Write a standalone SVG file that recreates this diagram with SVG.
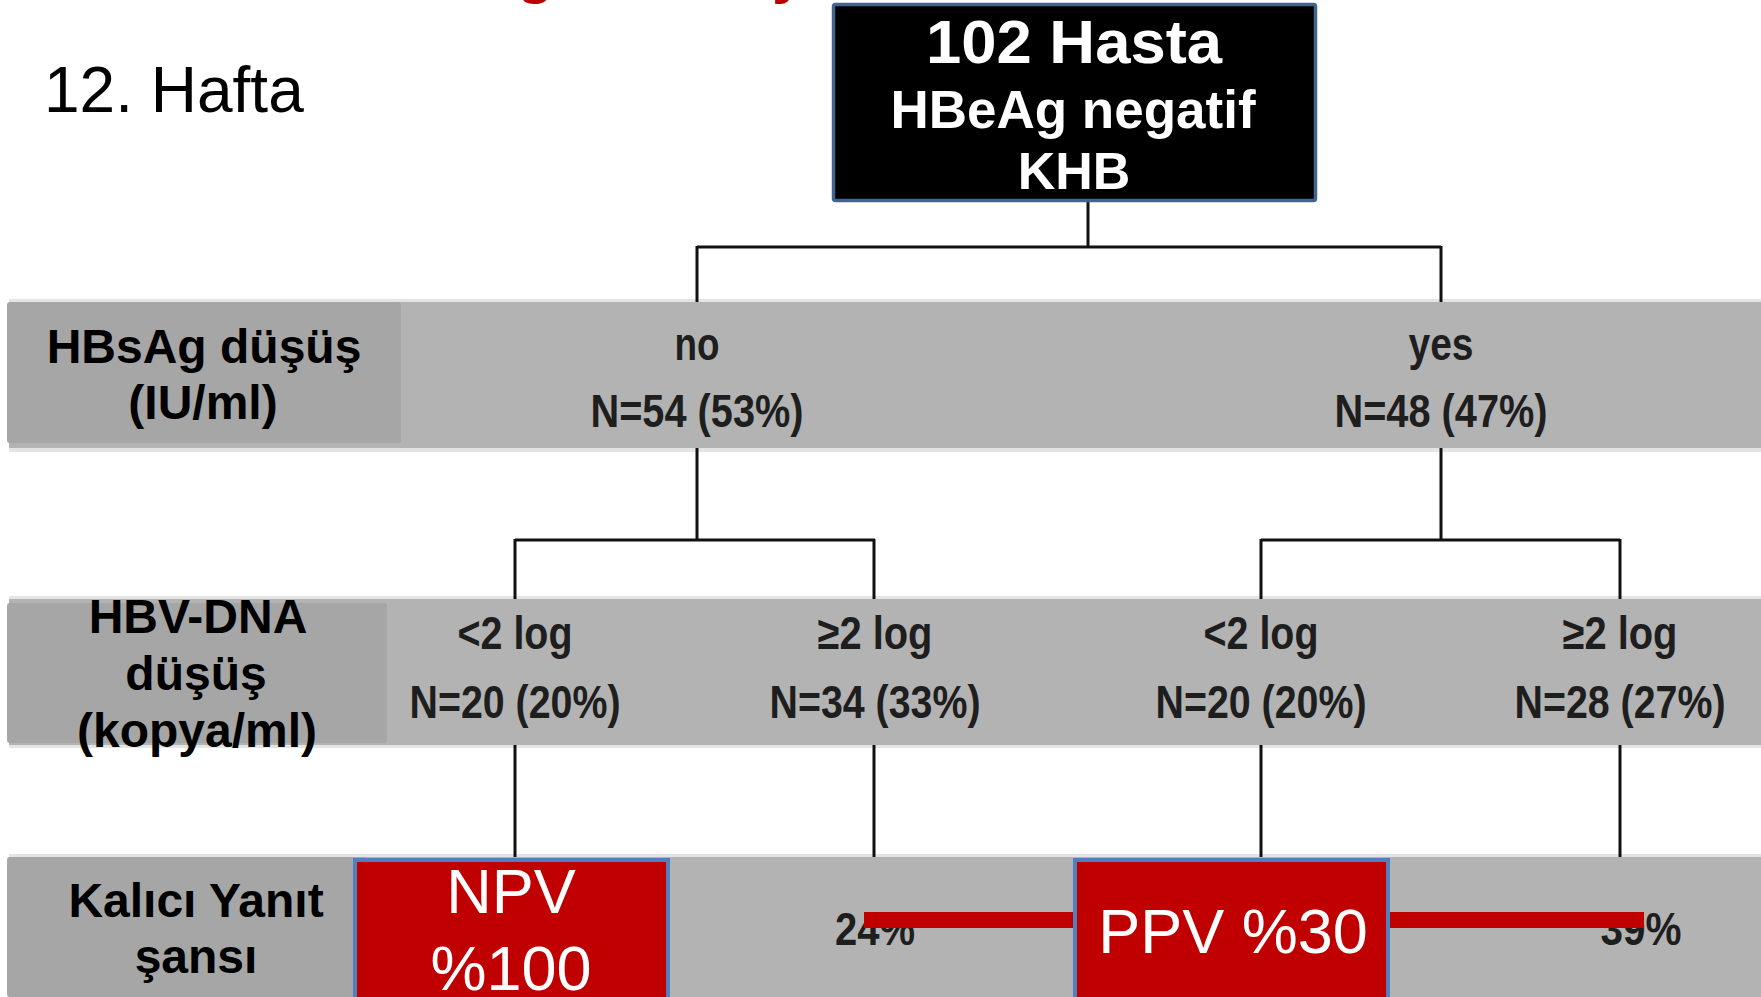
<svg xmlns="http://www.w3.org/2000/svg" width="1761" height="997" viewBox="0 0 1761 997">
  <style>
    .band-edge { fill: #e4e4e4; }
    .band { fill: #b3b3b3; }
    .label-box { fill: #a6a6a6; }
    .lbl { font-family: "Liberation Sans", Arial, sans-serif; font-weight: bold; font-size: 48px; fill: #000; text-anchor: middle; }
    .val { font-family: "Liberation Sans", Arial, sans-serif; font-weight: bold; font-size: 46px; fill: #1e1e1e; text-anchor: middle; }
    .head { font-family: "Liberation Sans", Arial, sans-serif; font-weight: bold; fill: #fff; text-anchor: middle; }
    .white { font-family: "Liberation Sans", Arial, sans-serif; font-size: 63px; fill: #fff; text-anchor: middle; }
    .conn { stroke: #111; stroke-width: 3; fill: none; }
    .redbox { fill: #c00000; stroke: #4f81bd; stroke-width: 4; }
    .redbar { fill: #c00000; }
  </style>
  <rect x="0" y="0" width="1761" height="997" fill="#ffffff"/>

  <!-- cut-off red title fragments -->
  <g id="title-fragment" font-family="Liberation Sans, Arial, sans-serif" font-weight="bold" font-size="60" fill="#c00000">
    <text x="517" y="-8.5">g</text>
    <text x="772" y="-8.5">y</text>
  </g>

  <!-- week label -->
  <g id="week">
    <text x="44" y="112" font-family="Liberation Sans, Arial, sans-serif" font-size="64" fill="#000">12. Hafta</text>
  </g>

  <!-- bands -->
  <g id="band-hbsag">
    <rect class="band-edge" x="9" y="299" width="1752" height="153"/>
    <rect class="band" x="9" y="302" width="1752" height="146"/>
    <rect class="label-box" x="7" y="302" width="394" height="141" rx="3"/>
    <text class="lbl" x="204" y="363">HBsAg düşüş</text>
    <text class="lbl" x="203" y="419">(IU/ml)</text>
  </g>
  <g id="band-hbvdna">
    <rect class="band-edge" x="9" y="596" width="1752" height="152"/>
    <rect class="band" x="9" y="599" width="1752" height="146"/>
    <rect class="label-box" x="7" y="603" width="380" height="140" rx="3"/>
    <text class="lbl" x="198" y="633" font-size="47">HBV-DNA</text>
    <text class="lbl" x="196" y="690" font-size="47">düşüş</text>
    <text class="lbl" x="197" y="747" font-size="47">(kopya/ml)</text>
  </g>
  <g id="band-yanit">
    <rect class="band-edge" x="9" y="854" width="1752" height="143"/>
    <rect class="band" x="9" y="857" width="1752" height="140"/>
    <rect class="label-box" x="7" y="857" width="360" height="140" rx="3"/>
    <text class="lbl" x="196" y="917" font-size="47">Kalıcı Yanıt</text>
    <text class="lbl" x="196" y="973" font-size="47">şansı</text>
  </g>

  <!-- connectors -->
  <g id="connectors">
    <path class="conn" d="M1088 202 V247 M697 247 H1441 M697 246 V302 M1441 246 V302"/>
    <path class="conn" d="M697 448 V540 M515 540 H875 M515 539 V599 M874 539 V599"/>
    <path class="conn" d="M1441 448 V540 M1261 540 H1620 M1261 539 V599 M1620 539 V599"/>
    <path class="conn" d="M515 745 V857 M874 745 V857 M1261 745 V857 M1620 745 V857"/>
  </g>

  <!-- root node -->
  <g id="node-root">
    <rect x="833.5" y="4.5" width="482" height="196" rx="2" fill="#000" stroke="#41658f" stroke-width="3.5"/>
    <text class="head" x="1074" y="63" font-size="61" textLength="296" lengthAdjust="spacingAndGlyphs">102 Hasta</text>
    <text class="head" x="1073" y="128" font-size="53">HBeAg negatif</text>
    <text class="head" x="1074" y="189" font-size="52">KHB</text>
  </g>

  <!-- HBsAg nodes -->
  <g id="node-no">
    <text class="val" x="697" y="360" textLength="45" lengthAdjust="spacingAndGlyphs">no</text>
    <text class="val" x="697" y="427" textLength="213" lengthAdjust="spacingAndGlyphs">N=54 (53%)</text>
  </g>
  <g id="node-yes">
    <text class="val" x="1441" y="360" textLength="65" lengthAdjust="spacingAndGlyphs">yes</text>
    <text class="val" x="1441" y="427" textLength="213" lengthAdjust="spacingAndGlyphs">N=48 (47%)</text>
  </g>

  <!-- HBV-DNA nodes -->
  <g id="node-no-lt2">
    <text class="val" x="515" y="649" textLength="115" lengthAdjust="spacingAndGlyphs">&lt;2 log</text>
    <text class="val" x="515" y="718" textLength="211" lengthAdjust="spacingAndGlyphs">N=20 (20%)</text>
  </g>
  <g id="node-no-ge2">
    <text class="val" x="875" y="649" textLength="115" lengthAdjust="spacingAndGlyphs">≥2 log</text>
    <text class="val" x="875" y="718" textLength="211" lengthAdjust="spacingAndGlyphs">N=34 (33%)</text>
  </g>
  <g id="node-yes-lt2">
    <text class="val" x="1261" y="649" textLength="115" lengthAdjust="spacingAndGlyphs">&lt;2 log</text>
    <text class="val" x="1261" y="718" textLength="211" lengthAdjust="spacingAndGlyphs">N=20 (20%)</text>
  </g>
  <g id="node-yes-ge2">
    <text class="val" x="1620" y="649" textLength="115" lengthAdjust="spacingAndGlyphs">≥2 log</text>
    <text class="val" x="1620" y="718" textLength="211" lengthAdjust="spacingAndGlyphs">N=28 (27%)</text>
  </g>

  <!-- response values -->
  <g id="node-24">
    <text class="val" x="875" y="945" textLength="80" lengthAdjust="spacingAndGlyphs">24%</text>
  </g>
  <g id="node-39">
    <text class="val" x="1641" y="945" textLength="81" lengthAdjust="spacingAndGlyphs">39%</text>
  </g>
  <g id="red-bars">
    <rect class="redbar" x="864" y="912" width="212" height="16"/>
    <rect class="redbar" x="1388" y="912" width="256" height="16"/>
  </g>

  <g id="node-npv">
    <rect class="redbox" x="355" y="860" width="313" height="150"/>
    <text class="white" x="511" y="913">NPV</text>
    <text class="white" x="511" y="990">%100</text>
  </g>
  <g id="node-ppv">
    <rect class="redbox" x="1075" y="860" width="313" height="150"/>
    <text class="white" x="1233" y="953" font-size="64">PPV %30</text>
  </g>
</svg>
